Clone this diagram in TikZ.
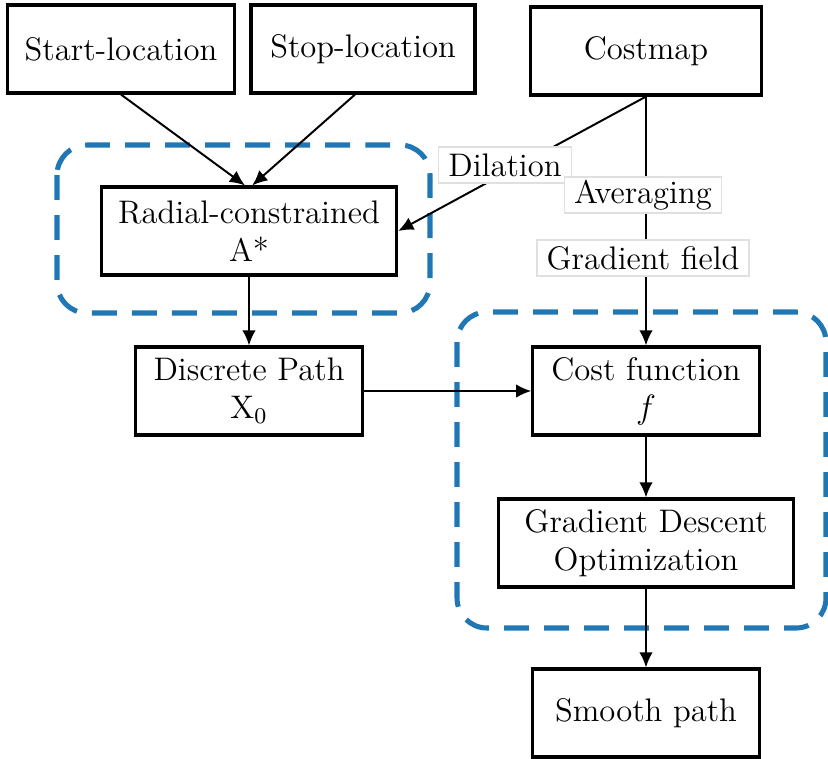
\documentclass[tikz,border=0pt]{standalone}
\usepackage{amsmath}
\usepackage{tikz}
\usetikzlibrary{arrows.meta,calc}
\definecolor{grpblue}{RGB}{31,119,180}
\tikzset{
  block/.style={draw, line width=1.1pt, align=center, inner sep=0pt, minimum height=1.1cm},
  lbl/.style={fill=white, draw=black!12, line width=0.4pt, inner xsep=0.12cm, inner ysep=0pt, minimum height=0.45cm},
  grp/.style={draw=grpblue, line width=1.8pt, dash pattern=on 0.31cm off 0.19cm, rounded corners=0.375cm},
  flow/.style={->, line width=0.7pt},
}

\begin{document}
\begin{tikzpicture}[x=0.0125cm, y=-0.0125cm, >={Latex[length=0.19cm,width=0.17cm]}, font=\fontsize{11.6}{13.4}\selectfont]
  \useasboundingbox (0,0) rectangle (828,758);
  % 虚线分组框
  \draw[grp] (57,145) rectangle (430,313);
  \draw[grp] (457,312) rectangle (826,628);
  % 输入
  \node[block, minimum width=2.84cm] (start)   at (121,49)  {Start-location};
  \node[block, minimum width=2.80cm] (stop)    at (363,49)  {Stop-location};
  \node[block, minimum width=2.88cm] (costmap) at (646,51)  {Costmap};
  % 路径搜索
  \node[block, minimum width=3.69cm] (radial)   at (249,231) {Radial-constrained\\A*};
  \node[block, minimum width=2.84cm] (discrete) at (249,391) {Discrete Path\\X$_0$};
  % 优化
  \node[block, minimum width=2.83cm] (cost)   at (646,391) {Cost function\\$f$};
  \node[block, minimum width=3.68cm] (gd)     at (646,543) {Gradient Descent\\Optimization};
  \node[block, minimum width=2.83cm] (smooth) at (646,713) {Smooth path};
  % 连线
  \draw[flow] (start.south) -- ([xshift=-0.05cm]radial.north);
  \draw[flow] ([xshift=-0.1cm]stop.south) -- ([xshift=0.04cm]radial.north);
  \draw[flow] (costmap.south) -- (radial.east);
  \draw[flow] (costmap.south) -- (cost.north);
  \draw[flow] (radial.south) -- (discrete.north);
  \draw[flow] (discrete.east) -- (cost.west);
  \draw[flow] (cost.south) -- (gd.north);
  \draw[flow] (gd.south) -- (smooth.north);
  % 标签
  \node[lbl] (dilation) at (505,165) {Dilation};
  \node[lbl] (averaging) at (643,195) {Averaging};
  \node[lbl] (gradfield) at (643,258) {Gradient field};
\end{tikzpicture}
\end{document}
